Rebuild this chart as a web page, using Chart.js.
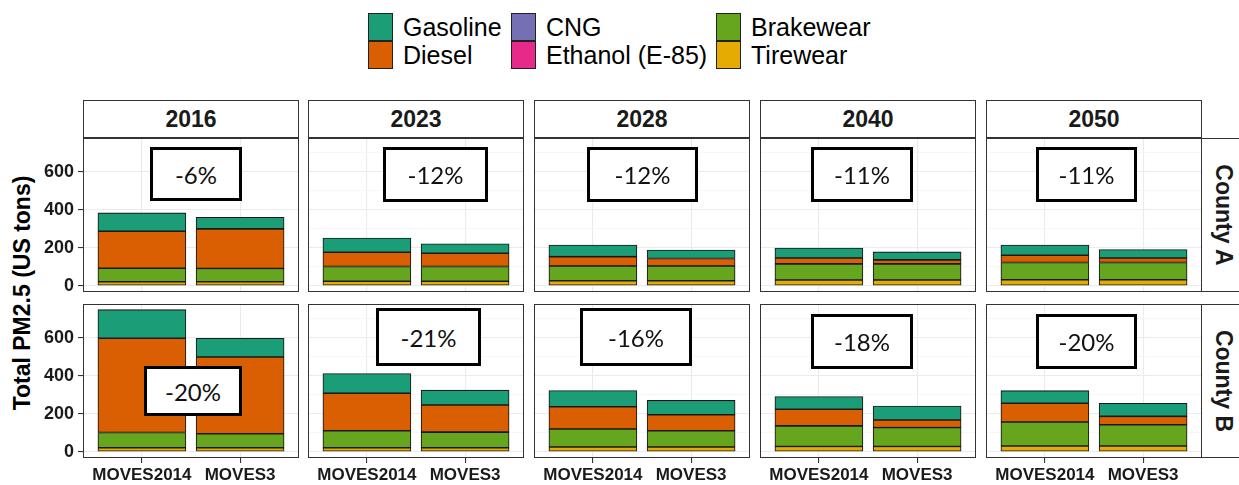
<!DOCTYPE html>
<html>
<head>
<meta charset="utf-8">
<script src="https://cdn.jsdelivr.net/npm/chart.js@4.4.0/dist/chart.umd.min.js"></script>
<style>
  body { margin: 0; background: #fff; }
  #wrap { position: relative; width: 1239px; height: 485px; overflow: hidden; font-family: "Liberation Sans", Arial, sans-serif; }
  canvas { position: absolute; }
  .strip { position: absolute; box-sizing: border-box; border: 1px solid #333; background: #fff;
           display: flex; align-items: center; justify-content: center;
           font-weight: bold; font-size: 23px; color: #1a1a1a; }
  .strip.v span { position: absolute; left: 21px; top: 50%; transform: translate(-50%, -50%) rotate(90deg); white-space: nowrap; }
  .pct { position: absolute; box-sizing: border-box; border: 3px solid #000; background: #fff; z-index: 5;
         display: flex; align-items: center; justify-content: center;
         font-family: Lato, "Open Sans", sans-serif; font-size: 24px; color: #111; }
  .leg { position: absolute; display: flex; align-items: center; font-size: 25px; color: #000; }
  .leg i { display: block; width: 25px; height: 28px; box-sizing: border-box; border: 1px solid #222; margin-right: 10px; }
  #ytitle { position: absolute; left: 22px; top: 293px; transform: translate(-50%, -50%) rotate(-90deg);
            white-space: nowrap; font-weight: bold; font-size: 23px; color: #000; }
</style>
</head>
<body>
<div id="wrap">
  <div id="ytitle">Total PM2.5 (US tons)</div>
</div>
<script>
// facets
const years = ['2016', '2023', '2028', '2040', '2050'];
const counties = ['County A', 'County B'];
const models = ['MOVES2014', 'MOVES3'];
const yTicks = [0, 100, 200, 300, 400, 500, 600, 700];

// values in US tons, [county][year] -> [MOVES2014, MOVES3]
const gasoline = [
  [[96, 61], [75, 50], [61, 45], [52, 42], [54, 44]],
  [[150, 99], [103, 78], [85, 75], [67, 73], [66, 69]]
];
const diesel = [
  [[195, 208], [75, 70], [49, 39], [31, 21], [38, 24]],
  [[496, 404], [198, 143], [118, 85], [87, 40], [99, 44]]
];
const cng = [
  [[0, 0], [0, 0], [0, 0], [0, 0], [0, 0]],
  [[0, 0], [0, 0], [0, 0], [0, 0], [0, 0]]
];
const ethanol = [
  [[0, 0], [0, 0], [0, 0], [0, 0], [0, 0]],
  [[0, 0], [0, 0], [0, 0], [0, 0], [0, 0]]
];
const brakewear = [
  [[71, 70], [78, 78], [78, 78], [85, 85], [91, 91]],
  [[80, 73], [89, 82], [94, 85], [108, 99], [126, 112]]
];
const tirewear = [
  [[21, 21], [23, 23], [26, 26], [30, 30], [31, 31]],
  [[21, 21], [21, 21], [25, 25], [28, 28], [30, 30]]
];
const changeLabels = [
  ['-6%', '-12%', '-12%', '-11%', '-11%'],
  ['-20%', '-21%', '-16%', '-18%', '-20%']
];

// stacking order bottom -> top
const series = [
  { label: 'Tirewear', values: tirewear, color: '#E6AB02' },
  { label: 'Brakewear', values: brakewear, color: '#66A61E' },
  { label: 'Ethanol (E-85)', values: ethanol, color: '#E7298A' },
  { label: 'CNG', values: cng, color: '#7570B3' },
  { label: 'Diesel', values: diesel, color: '#D95F02' },
  { label: 'Gasoline', values: gasoline, color: '#1B9E77' }
];
const legendOrder = [['Gasoline', 'Diesel'], ['CNG', 'Ethanol (E-85)'], ['Brakewear', 'Tirewear']];

// layout (px)
const colLeft = [83, 308, 534, 760, 986];
const panelW = 216, panelH = 154;
const rowTop = [138, 304];
const yAxisW = 47, xAxisH = 26;
const boxes = [
  [[150, 147, 92, 54], [383, 147, 105, 55], [587, 147, 111, 55], [811, 147, 102, 55], [1036, 147, 101, 55]],
  [[144, 366, 98, 50], [376, 308, 105, 58], [580, 308, 112, 58], [811, 314, 102, 55], [1036, 314, 101, 55]]
];

const wrap = document.getElementById('wrap');

// legend
const legX = [368, 511, 716], legY = [13, 41];
legendOrder.forEach((col, c) => col.forEach((name, r) => {
  const s = series.find(d => d.label === name);
  const el = document.createElement('div');
  el.className = 'leg';
  el.style.left = legX[c] + 'px';
  el.style.top = legY[r] + 'px';
  el.style.height = '28px';
  el.innerHTML = `<i style="background:${s.color}"></i><span>${name}</span>`;
  wrap.appendChild(el);
}));

// strips
years.forEach((y, c) => {
  const el = document.createElement('div');
  el.className = 'strip';
  Object.assign(el.style, { left: colLeft[c] + 'px', top: '100px', width: panelW + 'px', height: '38px' });
  el.textContent = y;
  wrap.appendChild(el);
});
counties.forEach((name, r) => {
  const el = document.createElement('div');
  el.className = 'strip v';
  Object.assign(el.style, { left: (colLeft[4] + panelW - 1) + 'px', top: rowTop[r] + 'px', width: '42px', height: panelH + 'px' });
  el.innerHTML = `<span>${name}</span>`;
  wrap.appendChild(el);
});

const panelBorder = {
  id: 'panelBorder',
  afterDraw(chart) {
    const a = chart.chartArea, ctx = chart.ctx;
    ctx.save();
    ctx.strokeStyle = '#333';
    ctx.lineWidth = 1;
    ctx.strokeRect(a.left + 0.5, a.top + 0.5, a.right - a.left - 1, a.bottom - a.top - 1);
    ctx.restore();
  }
};

function makePanel(r, c) {
  const isLeft = c === 0, isBottom = r === 1;
  const aw = isLeft ? yAxisW : 0, ah = isBottom ? xAxisH : 0;
  const canvas = document.createElement('canvas');
  canvas.width = panelW + aw;
  canvas.height = panelH + ah;
  canvas.style.left = (colLeft[c] - aw) + 'px';
  canvas.style.top = rowTop[r] + 'px';
  wrap.appendChild(canvas);

  new Chart(canvas, {
    type: 'bar',
    data: {
      datasets: series.map(s => ({
        label: s.label,
        data: s.values[r][c].map((v, i) => ({ x: i, y: v })),
        backgroundColor: s.color,
        borderColor: '#1a1a1a',
        borderWidth: 1.1,
        borderSkipped: false,
        barThickness: 88
      }))
    },
    options: {
      responsive: false,
      animation: false,
      layout: { padding: 0 },
      plugins: { legend: { display: false }, tooltip: { enabled: false } },
      scales: {
        x: {
          type: 'linear', stacked: true, min: -0.6, max: 1.6, offset: false,
          afterBuildTicks: s => { s.ticks = models.map((m, i) => ({ value: i })); },
          afterFit: s => { s.height = ah; s.paddingLeft = 0; s.paddingRight = 0; },
          border: { display: false },
          grid: { offset: false, color: '#ebebeb', lineWidth: 1.1, drawTicks: isBottom, tickLength: 5, tickColor: '#333' },
          ticks: {
            display: isBottom, autoSkip: false, maxRotation: 0, padding: 2,
            callback: v => models[v],
            font: { family: 'Liberation Sans', weight: 'bold', size: 17 }, color: '#1a1a1a'
          }
        },
        y: {
          stacked: true, min: -33, max: 777,
          afterBuildTicks: s => { s.ticks = yTicks.map(v => ({ value: v })); },
          afterFit: s => { s.width = aw; s.paddingTop = 0; s.paddingBottom = 0; },
          border: { display: false },
          grid: {
            color: ctx => ctx.tick && ctx.tick.value % 200 === 0 ? '#ebebeb' : '#f4f4f4',
            lineWidth: ctx => ctx.tick && ctx.tick.value % 200 === 0 ? 1.1 : 0.7,
            drawTicks: isLeft, tickLength: 5,
            tickColor: ctx => ctx.tick && ctx.tick.value % 200 === 0 ? '#333' : 'rgba(0,0,0,0)'
          },
          ticks: {
            display: isLeft, padding: 4,
            callback: v => (v % 200 === 0 ? String(v) : ''),
            font: { family: 'Liberation Sans', weight: 'bold', size: 18 }, color: '#1a1a1a'
          }
        }
      }
    },
    plugins: [panelBorder]
  });

  const b = boxes[r][c];
  const box = document.createElement('div');
  box.className = 'pct';
  Object.assign(box.style, { left: b[0] + 'px', top: b[1] + 'px', width: b[2] + 'px', height: b[3] + 'px' });
  box.textContent = changeLabels[r][c];
  wrap.appendChild(box);
}

counties.forEach((cty, r) => years.forEach((y, c) => makePanel(r, c)));
</script>
</body>
</html>
